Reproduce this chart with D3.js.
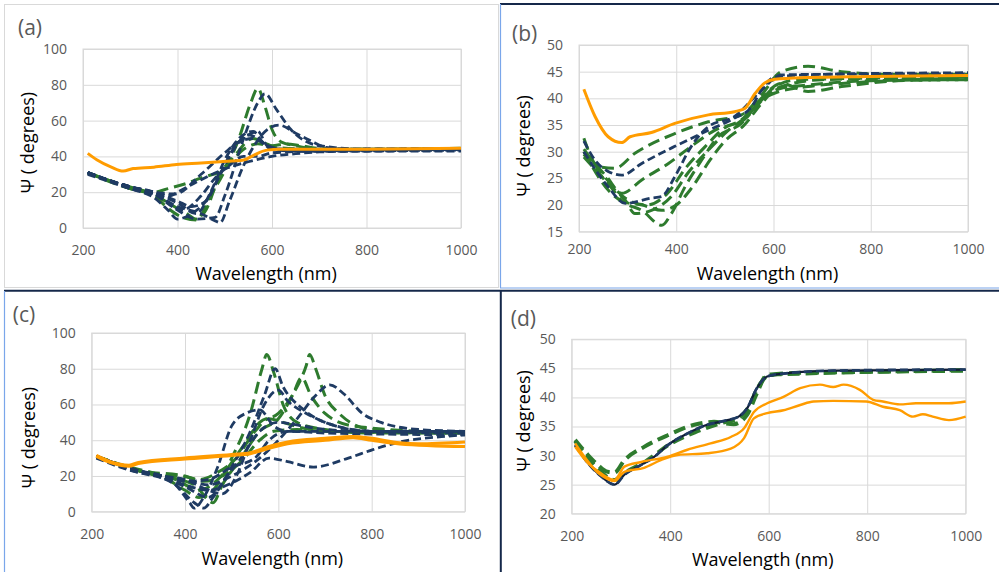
<!DOCTYPE html>
<html>
<head>
<meta charset="utf-8">
<script src="https://cdn.jsdelivr.net/npm/d3@7"></script>
<style>
body { margin: 0; background: #fff; }
svg { display: block; font-family: "Open Sans", sans-serif; }
</style>
</head>
<body>
<svg width="999" height="572"></svg>
<script>
// ---- data: each curve is a list of [wavelength nm, psi degrees] ----
var xTicks = [200, 400, 600, 800, 1000];
var yTicksWide = [0, 20, 40, 60, 80, 100];
var yTicksNarrow = [15, 20, 25, 30, 35, 40, 45, 50];
var yTicksD = [20, 25, 30, 35, 40, 45, 50];

var aNavy = [
    [[210,31],[250,27],[300,23],[350,20],[385,18],[400,20],[450,27],[500,33],[550,37],[600,40],[650,41.5],[700,42.5],[800,43],[1000,43.5]],
    [[210,30.5],[250,27],[300,23],[350,19],[400,10],[440,5],[480,6],[500,18],[540,50],[570,70],[585,75],[610,66],[640,55],[700,46],[800,44],[1000,44]],
    [[210,31],[250,27],[300,22],[350,19],[400,12],[450,8],[480,4],[490,3],[510,15],[540,35],[560,45],[590,55],[615,57.5],[650,53],[680,49],[715,45],[800,43.5],[1000,44]],
    [[210,31],[250,27],[300,22],[350,17],[380,10],[400,5],[430,8],[460,15],[500,35],[530,48],[550,52],[570,50],[600,44],[650,43],[1000,43]],
    [[210,31],[250,27],[300,23],[350,20],[400,15],[430,12],[460,15],[490,30],[520,45],[550,52],[570,54],[590,46],[620,44],[700,43.5],[1000,44]],
    [[210,30],[250,26.5],[300,22],[350,19],[400,14],[440,8],[470,20],[500,38],[530,50],[560,54],[580,48],[600,44],[700,43],[1000,43.5]],
    [[210,31],[250,27],[300,23],[350,20],[410,10],[450,18],[480,28],[510,35],[540,40],[570,40],[600,42],[700,43],[1000,44]],
    [[210,31],[300,23],[350,20],[395,19],[450,30],[500,42],[530,48],[560,50],[590,46],[620,44],[1000,44.5]]
];
var aGreen = [
    [[210,31],[250,27],[300,23],[350,20],[380,22],[420,25],[450,28],[500,33],[540,44],[570,47],[600,46],[630,47],[660,46],[700,44.5],[800,44],[1000,44.5]],
    [[210,30.5],[250,27],[300,22],[350,18],[380,11],[410,6],[440,4.5],[470,18],[500,32],[530,50],[555,70],[570,78],[585,68],[600,55],[620,48],[650,46],[700,44],[1000,44]],
    [[210,31],[300,22],[350,19],[380,14],[420,8],[440,5],[460,10],[490,30],[520,40],[560,50],[580,48],[610,45],[700,44],[1000,44]]
];
var aOrange = [
    [[210,41.7],[230,38],[260,34],[285,31.8],[306,33.2],[350,34],[398,35.5],[450,36.3],[490,37],[540,38],[560,40.5],[589,43.5],[617,44],[700,44],[800,44],[1000,44.5]]
];

var bNavy = [
    [[210,32],[233,28.4],[260,26.3],[288,25.6],[329,27.8],[397,31],[466,34],[520,36.3],[555,38.4],[575,41.5],[603,44],[700,44.5],[1000,44.8]],
    [[210,30],[260,23.4],[295,20.3],[349,21.3],[370,21.6],[397,25.3],[431,31],[466,34.7],[520,36.6],[575,41.5],[616,44.4],[700,44.5],[1000,44.6]]
];
var bGreen = [
    [[210,32.5],[240,27.2],[274,26.9],[315,29.7],[397,33.4],[466,35.6],[534,36.9],[575,40.6],[616,45],[671,46],[740,45],[850,44.5],[1000,44.5]],
    [[210,30],[257,25.3],[288,22.2],[329,24.7],[384,27.8],[431,31],[479,34],[534,36],[575,39.7],[603,41],[671,42.2],[740,42.8],[850,43.3],[1000,43.5]],
    [[210,30],[260,22.8],[295,20.3],[329,19],[370,16.2],[390,18.4],[418,23.4],[452,28.4],[486,32.8],[534,35.3],[575,40],[616,42.8],[671,41.3],[740,42.2],[850,43.3],[1000,43.8]],
    [[210,29.5],[260,24],[295,20.9],[315,18.4],[349,19],[390,21.6],[424,26],[466,30.3],[507,34],[548,36.9],[575,39.7],[616,41.9],[671,42.5],[800,43.3],[1000,43.5]],
    [[210,29],[260,24],[295,20.5],[330,20],[370,19],[400,20],[430,23],[470,28.5],[500,32],[540,35],[575,39],[610,42],[700,43.5],[1000,44]],
    [[210,30.5],[260,24.5],[300,21],[340,20],[380,22],[420,27],[460,31],[500,34.5],[540,36],[570,39],[600,42],[650,43.5],[1000,44]]
];
var bOrange = [
    [[210,41.7],[233,36.6],[260,32.8],[288,31.7],[305,32.8],[349,33.6],[397,35.3],[466,36.9],[520,37.5],[541,38.1],[562,40.9],[582,42.9],[603,43.6],[664,43.9],[800,44.1],[1000,44.3]]
];

var cNavy = [
    [[210,31],[250,27],[300,23],[350,19],[380,15],[420,5],[440,2],[460,8],[500,25],[540,45],[570,65],[593,80],[610,70],[650,58],[700,50],[800,45],[1000,45]],
    [[210,31],[300,23],[350,20],[400,18],[450,15],[500,20],[560,30],[600,40],[640,52],[680,65],[710,71],[740,66],[780,55],[820,50],[900,46],[1000,45]],
    [[210,30],[300,22],[350,20],[400,15],[450,12],[500,16],[540,22],[580,30],[620,28],[675,25],[750,30],[800,34.5],[860,39],[950,42],[1000,43]],
    [[210,31],[300,23],[350,20],[380,15],[410,5],[420,2],[440,8],[470,25],[500,48],[530,55],[560,57],[590,48],[620,45],[700,45],[1000,45]],
    [[210,31],[300,23],[350,20],[400,18],[450,12],[480,10],[510,20],[540,40],[570,60],[600,68],[620,62],[660,55],[700,50],[800,45],[1000,44]],
    [[210,30.5],[300,22],[350,19],[400,14],[450,8],[490,20],[520,30],[560,45],[600,50],[650,48],[700,46],[800,45],[1000,45]],
    [[210,31],[300,23],[350,20],[400,17],[450,18],[500,25],[550,30],[580,40],[620,45],[700,44],[1000,43]]
];
var cGreen = [
    [[210,31],[280,25],[350,20],[400,12],[430,8],[460,12],[500,30],[540,55],[565,80],[575,88],[590,78],[610,60],[640,50],[700,46],[800,44],[1000,44]],
    [[210,31],[300,23],[350,20],[420,15],[460,5],[480,15],[520,30],[560,45],[600,52],[630,65],[660,82],[667,88],[680,80],[700,65],[730,55],[800,46],[1000,44]],
    [[210,31],[300,23],[380,18],[430,12],[470,18],[520,35],[560,50],[600,55],[630,65],[650,75],[670,65],[700,55],[760,48],[1000,44]],
    [[210,31],[300,23],[350,20],[390,20],[430,18],[470,22],[510,30],[550,45],[580,52],[610,50],[650,47],[700,45],[1000,44]],
    [[210,31],[300,23],[400,20],[440,17],[480,20],[520,28],[560,40],[590,45],[640,46],[700,45],[1000,44]]
];
var cOrange = [
    [[210,31.5],[240,28],[280,26],[300,27.5],[400,30],[500,32],[540,33],[580,36.5],[620,39],[700,41],[760,42],[800,41],[860,38.5],[900,38],[1000,39]],
    [[210,31],[240,27.5],[280,25.5],[300,27],[400,29.5],[500,31.5],[540,32.5],[580,35.5],[620,38],[700,40],[760,41.5],[800,40],[860,38],[1000,36.5]]
];

var dNavy = [
    [[207,31.8],[233,28.7],[260,26.4],[287,25],[307,26.7],[341,28.4],[368,29.8],[395,31.8],[435,33.8],[475,35.3],[516,36.1],[539,36.7],[556,38.1],[576,41.6],[597,43.6],[630,44.1],[731,44.6],[1000,44.8]]
];
var dGreen = [
    [[207,32.7],[233,30.1],[253,28.4],[273,27.2],[287,27.1],[307,29.2],[347,31.5],[395,33.5],[449,35.3],[489,35.8],[529,35.4],[556,37],[576,40.7],[597,43.9],[630,44],[1000,44.7]],
    [[207,32.5],[250,28],[287,25.8],[307,27],[350,29],[400,32],[450,34],[500,35.5],[540,36.5],[560,38.5],[580,42],[600,43.8],[650,44.2],[800,44.4],[1000,44.6]]
];
var dOrange = [
    [[207,31.5],[233,28.7],[260,26.9],[287,25.8],[307,28.1],[341,28.9],[395,29.8],[435,31],[482,32.1],[523,33.2],[550,34.7],[570,37.5],[597,39],[630,40.1],[664,41.6],[704,42.2],[731,41.8],[752,42.2],[785,41.3],[812,39.6],[832,39.3],[866,38.8],[899,39],[933,39],[966,39],[1000,39.3]],
    [[207,32.1],[260,26.6],[287,25.6],[307,27.2],[347,27.9],[381,29.2],[415,30.1],[475,30.4],[523,31.2],[550,33],[570,36.4],[597,37.3],[630,37.8],[664,38.7],[691,39.3],[731,39.4],[798,39.3],[832,38.4],[866,37.8],[893,36.7],[913,37.1],[933,36.7],[966,36.1],[1000,36.7]]
];

// ---- layout ----
var panels = [
    { label: "(a)", lx: 18, ly: 27, left: 83, right: 461, top: 49, bottom: 228, ydom: [0, 100], yticks: yTicksWide,
      pad: 17, xt: 273, yt: [26.7, 142.5], navy: aNavy, green: aGreen, orange: aOrange, ow: 3 },
    { label: "(b)", lx: 512, ly: 32.5, left: 579, right: 968, top: 45, bottom: 231.7, ydom: [15, 50], yticks: yTicksNarrow,
      pad: 12, xt: 273, yt: [523, 145.8], navy: bNavy, green: bGreen, orange: bOrange, ow: 3 },
    { label: "(c)", lx: 12.7, ly: 314, left: 91.7, right: 465, top: 333, bottom: 511.7, ydom: [0, 100], yticks: yTicksWide,
      pad: 17, xt: 558, yt: [28.3, 437.5], navy: cNavy, green: cGreen, orange: cOrange, ow: 3.2 },
    { label: "(d)", lx: 510.7, ly: 318, left: 571.7, right: 965.7, top: 339.3, bottom: 513.7, ydom: [20, 50], yticks: yTicksD,
      pad: 17, xt: 558.5, yt: [523, 420.8], navy: dNavy, green: dGreen, orange: dOrange, ow: 2.4, dark: true }
];

var svg = d3.select("svg");
var navyColor = "#1f3b63", greenColor = "#2e7b2e", orangeColor = "#ff9c00";
var frameDark = "#15284a", frameLight = "#7aa6ea";

// panel frames
svg.append("rect").attr("x", 4.5).attr("y", 4.5).attr("width", 494).attr("height", 283)
    .attr("fill", "none").attr("stroke", "#d9d9d9");
var frameLines = [
    [500, 4, 999, 4, frameDark, 2],
    [500.5, 4, 500.5, 288, frameLight, 1.2],
    [500, 288, 999, 288, frameLight, 1.2],
    [4, 290.8, 999, 290.8, frameDark, 2],
    [500.8, 290, 500.8, 572, frameDark, 2],
    [4.5, 291, 4.5, 572, frameLight, 1.2]
];
frameLines.forEach(function (l) {
    svg.append("line").attr("x1", l[0]).attr("y1", l[1]).attr("x2", l[2]).attr("y2", l[3])
        .attr("stroke", l[4]).attr("stroke-width", l[5]);
});

panels.forEach(function (p) {
    var x = d3.scaleLinear().domain([200, 1000]).range([p.left, p.right]);
    var y = d3.scaleLinear().domain(p.ydom).range([p.bottom, p.top]);
    var w = p.right - p.left, h = p.bottom - p.top;

    // gridlines
    svg.append("g").attr("transform", "translate(0," + p.bottom + ")")
        .call(d3.axisBottom(x).tickValues(xTicks).tickSize(-h).tickFormat(""))
        .call(function (g) { g.select(".domain").remove(); })
        .selectAll("line").attr("stroke", "#d9d9d9");
    svg.append("g").attr("transform", "translate(" + p.left + ",0)")
        .call(d3.axisLeft(y).tickValues(p.yticks).tickSize(-w).tickFormat(""))
        .call(function (g) { g.select(".domain").remove(); })
        .selectAll("line").attr("stroke", "#d9d9d9");
    svg.append("rect").attr("x", p.left).attr("y", p.top).attr("width", w).attr("height", h)
        .attr("fill", "none").attr("stroke", "#d9d9d9");

    // tick labels
    var xa = svg.append("g").attr("transform", "translate(0," + p.bottom + ")")
        .call(d3.axisBottom(x).tickValues(xTicks).tickSize(0).tickPadding(p.pad).tickFormat(d3.format("d")));
    var ya = svg.append("g").attr("transform", "translate(" + p.left + ",0)")
        .call(d3.axisLeft(y).tickValues(p.yticks).tickSize(0).tickPadding(16).tickFormat(d3.format("d")));
    [xa, ya].forEach(function (a) {
        a.select(".domain").remove();
        a.selectAll("text").attr("fill", "#595959").style("font-size", "14px")
            .style("font-family", "'Open Sans', sans-serif");
    });

    var line = d3.line().x(function (d) { return x(d[0]); }).y(function (d) { return y(d[1]); })
        .curve(d3.curveMonotoneX);
    var plot = svg.append("g");

    p.green.forEach(function (s) {
        plot.append("path").attr("d", line(s)).attr("fill", "none")
            .attr("stroke", greenColor).attr("stroke-width", p.dark ? 4 : 3)
            .attr("stroke-dasharray", "12,6");
    });
    p.navy.forEach(function (s) {
        if (p.dark) {
            plot.append("path").attr("d", line(s)).attr("fill", "none")
                .attr("stroke", "#0f1d38").attr("stroke-width", 2.2);
        }
        plot.append("path").attr("d", line(s)).attr("fill", "none")
            .attr("stroke", navyColor).attr("stroke-width", 2.8)
            .attr("stroke-dasharray", "8,4");
    });
    p.orange.forEach(function (s) {
        plot.append("path").attr("d", line(s)).attr("fill", "none")
            .attr("stroke", orangeColor).attr("stroke-width", p.ow)
            .attr("stroke-linejoin", "round");
    });

    // titles
    svg.append("text").attr("x", (p.left + p.right) / 2 - 6).attr("y", p.xt)
        .attr("text-anchor", "middle").attr("dominant-baseline", "central")
        .style("font-size", "18px").attr("fill", "#000").text("Wavelength (nm)");
    svg.append("text").attr("transform", "translate(" + p.yt[0] + "," + p.yt[1] + ") rotate(-90)")
        .attr("text-anchor", "middle").attr("dominant-baseline", "central")
        .style("font-size", "18px").attr("fill", "#000").text("Ψ ( degrees)");
    svg.append("text").attr("x", p.lx).attr("y", p.ly)
        .attr("dominant-baseline", "central")
        .style("font-size", "21px").attr("fill", "#595959").text(p.label);
});
</script>
</body>
</html>
